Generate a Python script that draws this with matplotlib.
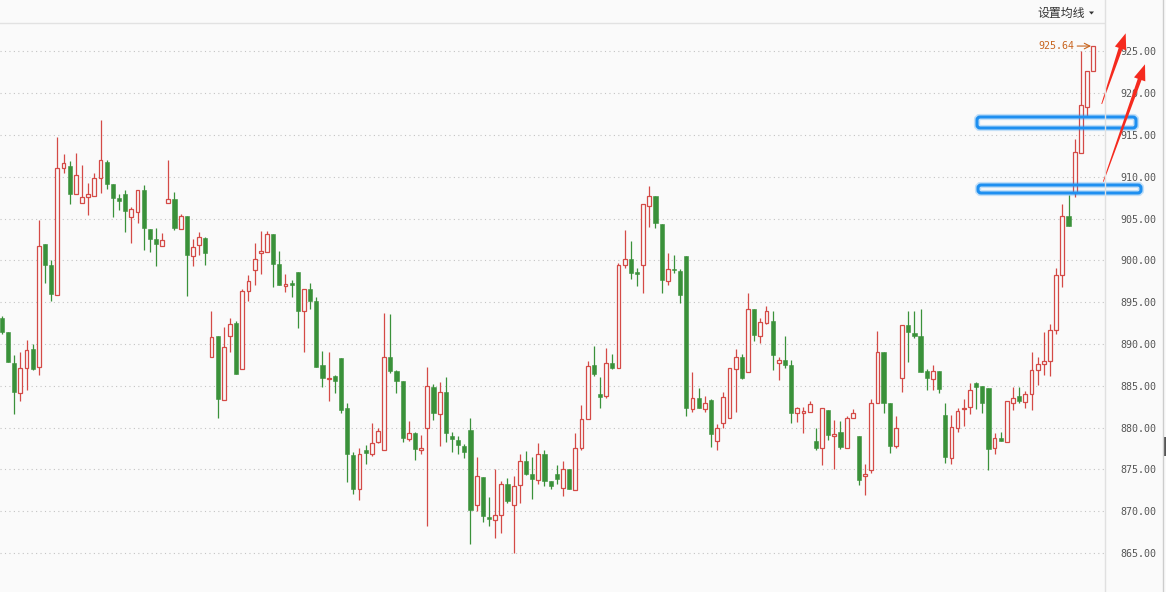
import numpy as np
import matplotlib
matplotlib.use('Agg')
import matplotlib.pyplot as plt
from matplotlib.patches import FancyBboxPatch, Polygon
from matplotlib.ticker import FormatStrFormatter

# daily candles, oldest first
opens = [893.1, 891.4, 887.7, 884.1, 887.1, 889.4, 887.2, 902.0, 899.5, 895.9,
         911.0, 911.3, 907.9, 906.9, 907.6, 907.7, 909.8, 911.8, 909.1, 907.5,
         907.9, 905.2, 905.8, 908.4, 903.8, 902.6, 901.7, 906.9, 907.4, 903.8,
         905.3, 900.5, 901.8, 902.7, 888.5, 890.9, 883.3, 891.0, 892.5, 887.0,
         896.3, 898.8, 900.9, 901.0, 903.2, 899.6, 896.9, 897.3, 898.6, 894.0,
         896.6, 895.2, 887.5, 885.8, 886.2, 888.3, 882.3, 876.7, 872.6, 877.3,
         876.9, 878.3, 877.3, 888.5, 886.8, 885.6, 878.6, 879.4, 877.3, 879.9,
         884.8, 881.6, 884.2, 879.0, 878.5, 877.8, 879.7, 870.7, 874.1, 869.3,
         868.9, 869.5, 873.2, 870.7, 873.1, 876.0, 874.4, 873.7, 876.9, 873.6,
         874.5, 872.8, 875.1, 872.5, 877.5, 881.0, 887.5, 884.0, 883.8, 887.7,
         887.1, 899.4, 900.2, 898.6, 899.5, 906.5, 907.7, 904.4, 897.5, 899.0,
         898.7, 900.5, 882.2, 883.5, 882.2, 883.3, 878.4, 880.6, 881.2, 887.0,
         888.5, 886.6, 894.2, 891.0, 892.5, 892.7, 887.7, 888.1, 887.5, 881.7,
         881.7, 881.9, 878.4, 877.5, 882.1, 879.0, 879.5, 877.6, 881.1, 879.0,
         874.2, 874.9, 883.0, 889.0, 883.0, 877.8, 885.9, 892.3, 891.3, 891.0,
         886.8, 885.8, 886.8, 881.5, 876.4, 880.0, 882.2, 882.5, 885.3, 885.0,
         884.7, 877.5, 878.7, 878.3, 883.0, 883.8, 883.1, 884.0, 886.9, 887.6,
         888.0, 891.7, 898.3, 905.3, 908.1, 912.9, 918.4, 922.6]
highs = [893.3, 891.4, 888.7, 889.0, 890.5, 890.0, 904.8, 902.0, 900.0, 914.8,
         912.7, 911.9, 912.9, 911.4, 909.2, 910.4, 916.8, 912.0, 909.1, 908.0,
         908.4, 906.4, 908.4, 909.0, 903.8, 903.9, 903.3, 912.0, 908.2, 905.6,
         905.3, 902.6, 903.4, 902.8, 893.9, 890.9, 892.0, 893.1, 892.7, 896.6,
         898.3, 902.1, 903.5, 903.5, 903.2, 901.1, 898.4, 897.6, 898.6, 896.6,
         897.3, 895.6, 889.2, 889.0, 886.3, 888.3, 882.9, 877.1, 877.5, 877.9,
         880.6, 880.0, 893.7, 893.6, 886.9, 885.6, 880.8, 879.5, 879.1, 887.3,
         885.2, 885.5, 886.0, 879.5, 879.0, 878.0, 881.1, 876.5, 874.1, 871.7,
         875.0, 873.6, 874.0, 874.2, 876.9, 877.2, 876.5, 878.2, 877.3, 873.6,
         875.5, 876.0, 875.1, 879.3, 882.7, 888.0, 889.8, 886.0, 889.5, 888.8,
         899.7, 903.6, 902.3, 899.1, 906.7, 908.9, 907.7, 904.4, 900.9, 900.6,
         899.0, 900.5, 886.6, 884.7, 883.8, 883.4, 880.4, 884.2, 887.1, 889.4,
         888.8, 896.1, 894.2, 893.1, 894.5, 894.0, 888.5, 891.0, 888.1, 882.5,
         882.5, 883.2, 880.0, 882.3, 882.1, 880.9, 880.8, 881.4, 882.2, 879.0,
         875.7, 883.4, 891.6, 889.0, 883.0, 881.4, 892.3, 894.0, 894.0, 894.2,
         887.0, 887.5, 886.8, 883.0, 881.5, 882.3, 883.4, 885.3, 885.5, 885.0,
         884.7, 879.4, 879.5, 883.2, 884.8, 884.8, 884.4, 889.0, 888.4, 891.4,
         892.4, 899.1, 906.7, 907.8, 914.5, 925.0, 922.6, 925.64]
lows = [891.2, 887.8, 881.6, 883.2, 884.5, 886.9, 886.3, 897.3, 895.1, 895.9,
        910.5, 906.7, 907.9, 906.9, 905.4, 907.7, 908.1, 908.5, 905.2, 906.0,
        903.4, 902.1, 904.5, 901.2, 901.0, 899.3, 901.7, 906.9, 903.6, 903.7,
        895.8, 899.3, 900.6, 899.4, 888.5, 881.1, 883.3, 889.1, 886.4, 887.0,
        895.2, 897.0, 898.4, 901.0, 896.8, 897.0, 896.2, 895.6, 891.9, 889.0,
        894.2, 887.2, 884.8, 883.2, 884.1, 881.7, 873.5, 872.0, 871.3, 875.7,
        876.6, 878.2, 877.3, 886.5, 884.1, 878.3, 878.4, 876.1, 876.8, 868.2,
        880.9, 877.8, 878.3, 877.1, 876.8, 876.4, 866.1, 870.0, 868.7, 868.2,
        866.8, 867.4, 871.0, 865.0, 871.0, 874.3, 871.4, 873.3, 873.0, 872.6,
        873.2, 871.8, 872.6, 872.5, 877.3, 881.0, 886.2, 882.4, 883.6, 887.0,
        887.1, 899.1, 897.8, 896.9, 896.1, 904.0, 903.9, 896.1, 897.1, 898.5,
        894.9, 881.4, 881.9, 882.4, 881.9, 877.7, 877.3, 880.0, 881.2, 881.9,
        885.8, 886.6, 890.3, 890.1, 892.4, 886.9, 885.7, 887.1, 880.6, 880.7,
        879.4, 881.9, 877.3, 875.5, 878.5, 875.0, 877.4, 877.6, 881.1, 873.1,
        871.9, 874.6, 883.0, 881.8, 877.0, 877.6, 884.2, 887.8, 890.7, 886.6,
        884.5, 884.5, 884.1, 875.8, 875.7, 879.5, 880.2, 881.6, 882.2, 881.8,
        874.9, 876.9, 878.4, 878.3, 882.1, 883.0, 882.3, 882.1, 885.1, 886.3,
        886.2, 891.2, 896.8, 904.1, 907.6, 912.9, 917.3, 922.6]
closes = [891.4, 887.8, 884.2, 887.1, 889.3, 887.0, 901.7, 899.5, 896.0, 911.0,
          911.6, 907.9, 910.2, 907.6, 907.9, 909.8, 912.0, 909.1, 907.5, 907.1,
          905.9, 906.1, 908.4, 903.9, 902.6, 902.0, 902.4, 907.4, 903.9, 905.3,
          900.6, 901.6, 902.8, 900.9, 890.8, 883.4, 889.7, 892.4, 886.4, 896.3,
          897.5, 900.2, 901.1, 903.2, 899.6, 897.0, 897.2, 897.0, 894.0, 896.6,
          895.2, 887.3, 885.9, 885.9, 885.6, 882.1, 876.8, 872.7, 876.9, 877.0,
          878.2, 879.6, 888.5, 886.8, 885.6, 878.8, 879.3, 877.4, 877.5, 885.0,
          881.7, 884.2, 879.3, 878.6, 877.9, 877.1, 870.2, 874.2, 869.4, 869.1,
          869.6, 873.2, 871.2, 873.0, 876.0, 874.4, 873.9, 876.9, 873.6, 873.0,
          873.9, 875.1, 872.6, 877.5, 881.0, 887.4, 886.4, 883.7, 887.7, 887.1,
          899.5, 900.2, 898.5, 898.4, 906.7, 907.7, 904.5, 897.7, 899.0, 898.8,
          895.9, 882.4, 883.5, 882.4, 883.0, 879.2, 880.0, 883.7, 887.1, 888.5,
          885.9, 894.2, 891.1, 892.6, 894.0, 888.7, 888.1, 887.5, 881.8, 882.3,
          882.0, 882.8, 877.6, 882.3, 879.1, 879.2, 877.7, 881.1, 881.8, 873.7,
          874.4, 883.0, 889.1, 883.0, 877.8, 880.0, 892.3, 891.4, 891.0, 886.6,
          885.9, 886.8, 884.6, 876.5, 880.1, 882.0, 882.4, 884.5, 884.9, 882.9,
          877.4, 878.7, 878.4, 883.2, 883.5, 883.2, 884.0, 886.9, 887.6, 888.0,
          891.7, 898.3, 905.3, 904.1, 913.0, 918.6, 922.6, 925.64]

price_ticks = list(range(865, 930, 5))

UP = '#d44a46'
DOWN = '#3a913a'
BG = '#fafafa'

W, H = 1166, 592
fig = plt.figure(figsize=(W / 100, H / 100), dpi=100, facecolor=BG)
ax = fig.add_axes([0, 0, 1104 / W, (H - 23) / H])
ax.set_facecolor(BG)

n = len(closes)
x = np.arange(n)
o = np.array(opens)
c = np.array(closes)
hi = np.array(highs)
lo = np.array(lows)
up = c >= o

# wicks
ax.vlines(x[up], lo[up], hi[up], color=UP, linewidth=0.9, zorder=2)
ax.vlines(x[~up], lo[~up], hi[~up], color=DOWN, linewidth=0.9, zorder=2)

# bodies
body = np.maximum(np.abs(c - o), 0.1)
bottom = np.minimum(o, c)
ax.bar(x[up], body[up], bottom=bottom[up], width=0.62, facecolor=BG,
       edgecolor=UP, linewidth=0.9, zorder=3)
ax.bar(x[~up], body[~up], bottom=bottom[~up], width=0.68, color=DOWN,
       edgecolor=DOWN, linewidth=0.4, zorder=3)

ax.set_xlim(-0.3, 1104 / 6.166 - 0.3)
ax.set_ylim(915 - (H - 135) / 8.36, 915 + (135 - 23) / 8.36)

ax.set_yticks(price_ticks)
ax.yaxis.set_major_formatter(FormatStrFormatter('%.2f'))
ax.yaxis.tick_right()
ax.tick_params(axis='y', length=0, pad=12, labelsize=7.2, labelcolor='#555555')
for lab in ax.get_yticklabels():
    lab.set_family('DejaVu Sans Mono')
ax.set_xticks([])
ax.yaxis.grid(True, linestyle=(0, (1, 3)), color='#c4c4c4', linewidth=0.8)
for s in ax.spines.values():
    s.set_visible(False)

# last price tag
last = closes[-1]
ax.text(n - 1 - 3.1, last, f'{last:.2f}', ha='right', va='center',
        color='#c8641e', fontsize=7.2, family='DejaVu Sans Mono', zorder=5)
ax.annotate('', xy=(n - 1 - 0.35, last), xytext=(n - 1 - 2.6, last),
            arrowprops=dict(arrowstyle='->', color='#c8641e', lw=0.8,
                            shrinkA=0, shrinkB=0), zorder=5)

# overlay in pixel coordinates for frame and hand-drawn marks
ov = fig.add_axes([0, 0, 1, 1], zorder=10)
ov.set_xlim(0, W)
ov.set_ylim(H, 0)
ov.axis('off')
ov.patch.set_alpha(0)

ov.plot([0, 1104], [23, 23], color='#e2e2e2', lw=1)
ov.plot([1104.5, 1104.5], [0, H], color='#e0e0e0', lw=1)
ov.plot([1162.5, 1162.5], [0, H], color='#cdcdcd', lw=1)
ov.add_patch(plt.Rectangle((1163, 437), 3, 19, color='#555555', lw=0))

ov.text(1037, 13, '设置均线', ha='left', va='center', fontsize=8.6,
        family=['Noto Sans CJK SC', 'DejaVu Sans'], color='#333333')
ov.add_patch(Polygon([(1089, 11.5), (1094, 11.5), (1091.5, 14.5)],
                     closed=True, color='#333333', lw=0))

# blue highlight boxes
for (x0, y0, x1, y1) in [(977, 117, 1136, 128), (978, 185, 1141, 193)]:
    for lw, a in [(4.5, 0.25), (2.2, 1.0)]:
        ov.add_patch(FancyBboxPatch((x0, y0), x1 - x0, y1 - y0,
                                    boxstyle='round,pad=0,rounding_size=3',
                                    fill=False, edgecolor='#1e8ff0', lw=lw, alpha=a))


def arrow_poly(tail, tip, w0=0.4, w1=2.0, hw=6.0, hl=16.0):
    tail = np.array(tail, float)
    tip = np.array(tip, float)
    d = tip - tail
    d /= np.hypot(*d)
    nrm = np.array([-d[1], d[0]])
    base = tip - d * hl
    return [tail + nrm * w0, base + nrm * w1, base + nrm * hw, tip,
            base - nrm * hw, base - nrm * w1, tail - nrm * w0]


for tail, tip in [((1101.7, 104), (1125.7, 33.3)), ((1103.3, 181.7), (1145, 64.3))]:
    ov.add_patch(Polygon(arrow_poly(tail, tip), closed=True, color='#f52a1e', lw=0))

fig.savefig('out.png', dpi=100, facecolor=BG)
